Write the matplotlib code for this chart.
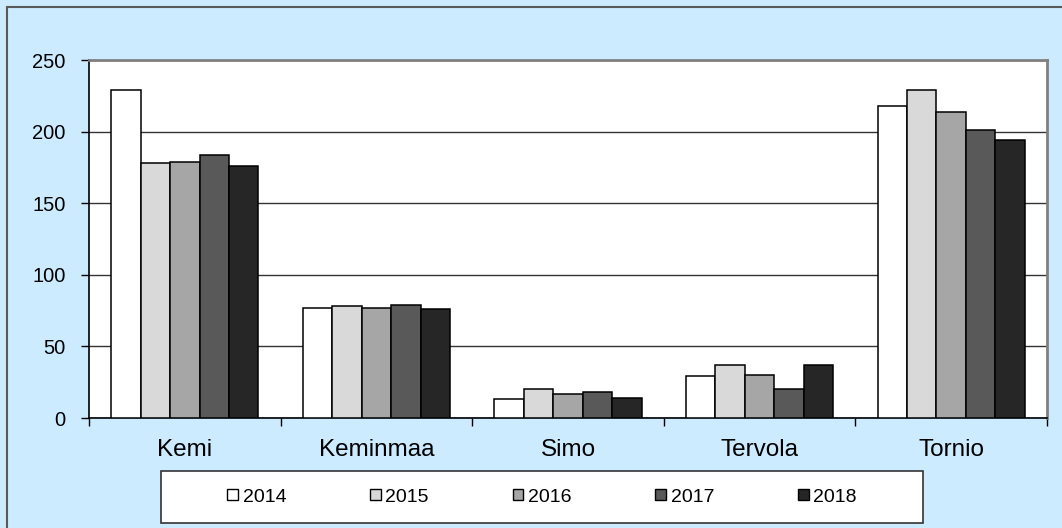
import numpy as np
import matplotlib as mpl
mpl.use('Agg')
import matplotlib.pyplot as plt
from matplotlib.patches import Rectangle

plt.rcParams['font.family'] = ['Liberation Sans', 'DejaVu Sans']

towns = ['Kemi', 'Keminmaa', 'Simo', 'Tervola', 'Tornio']
years = ['2014', '2015', '2016', '2017', '2018']
v2014 = [229, 77, 13, 29, 218]
v2015 = [178, 78, 20, 37, 229]
v2016 = [179, 77, 17, 30, 214]
v2017 = [184, 79, 18, 20, 201]
v2018 = [176, 76, 14, 37, 194]
yticks = [0, 50, 100, 150, 200, 250]

series = [v2014, v2015, v2016, v2017, v2018]
colors = ['#FFFFFF', '#D9D9D9', '#A6A6A6', '#595959', '#262626']
bg = '#CCEBFF'

fig = plt.figure(figsize=(10.62, 5.28), dpi=100, facecolor=bg)
# outer chart border (only top/left visible in reference)
fig.patches.append(Rectangle((7 / 1062, -0.5), 2, 1.5 - 7 / 528, transform=fig.transFigure,
                             facecolor='none', edgecolor='#5a5a5a', lw=1.5))

ax = fig.add_axes([89 / 1062, 1 - 418 / 528, 958 / 1062, 358 / 528])
ax.set_facecolor('white')

x = np.arange(len(towns))
w = 1 / 6.5
for i, (vals, c, yr) in enumerate(zip(series, colors, years)):
    ax.bar(x + (i - 2) * w, vals, width=w, color=c, edgecolor='black', lw=1.1,
           label=yr, zorder=3)

ax.set_xlim(-0.5, len(towns) - 0.5)
ax.set_ylim(0, 250)
ax.set_yticks(yticks)
ax.set_yticklabels([str(t) for t in yticks], fontsize=14.5)
ax.yaxis.grid(True, color='#333333', lw=1)
ax.set_axisbelow(True)

ax.set_xticks(np.arange(len(towns) + 1) - 0.5)
ax.set_xticklabels([])
ax.set_xticks(x, minor=True)
ax.set_xticklabels(towns, minor=True, fontsize=17.5)
ax.tick_params(axis='x', which='minor', length=0, pad=15)
ax.tick_params(axis='x', which='major', length=6, width=1, color='black')
ax.tick_params(axis='y', length=6, width=1, pad=11, color='black')

for s in ['top', 'right']:
    ax.spines[s].set_color('#808080')
    ax.spines[s].set_linewidth(2)
for s in ['left', 'bottom']:
    ax.spines[s].set_color('black')
    ax.spines[s].set_linewidth(1.2)

# legend box
fig.patches.append(Rectangle((161 / 1062, 1 - 523 / 528), 762 / 1062, 52 / 528,
                             transform=fig.transFigure, facecolor='white',
                             edgecolor='#333333', lw=1.2))
leg = fig.legend(loc='center', bbox_to_anchor=(542 / 1062, 1 - 497 / 528), ncol=5,
                 frameon=False, fontsize=14, handlelength=0.55, handleheight=0.55,
                 handletextpad=0.25, columnspacing=4.3)
for h in leg.legend_handles:
    h.set_linewidth(1)

fig.savefig('out.png', dpi=100, facecolor=bg)
